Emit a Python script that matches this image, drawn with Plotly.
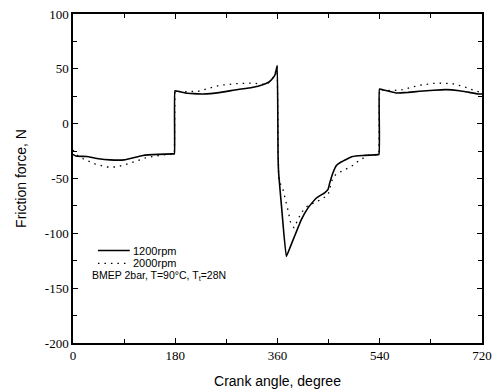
import plotly.graph_objects as go

# 1200 rpm (solid)
angle_1200 = [0, 5, 24, 45, 65, 90, 123, 150, 176, 178.5, 179.5, 185, 197, 229, 260, 288, 315,
              334, 345, 352, 356, 359.5, 361, 362, 367, 375.5, 382, 390, 402, 413.5, 428, 443, 449,
              452, 457.5, 464, 472, 492, 510, 530, 538.5, 539.5, 545, 569, 590, 610, 635, 657, 680,
              698, 715, 720]
force_1200 = [-28, -29.5, -30, -32, -33, -33, -29, -28, -27.5, -27.5, 30, 29.5, 28, 27, 28.5, 31, 33,
              35.5, 38, 41.6, 45, 53, -30, -45, -75, -121, -113, -102.7, -87.5, -77, -68, -63, -60,
              -54, -45, -38, -35, -30, -29, -28.5, -28, 31.5, 31, 28, 28.5, 29.5, 30.5, 31, 30,
              28.5, 27, 27]

# 2000 rpm (dotted)
angle_2000 = [0, 5, 18, 40, 60, 77, 100, 129, 153, 165, 176, 178.5, 179.5, 190, 220, 258, 288, 316,
              340, 350, 355, 359.5, 362, 369.6, 378, 383, 389, 396, 402, 413, 437, 449, 457,
              463, 478, 490, 505, 520, 538.5, 539.5, 560, 580, 610, 639, 668, 686, 708, 720]
force_2000 = [-24, -28, -32, -37, -39.5, -39.5, -36, -31, -29, -28, -28, -28, 30, 29, 29.5, 35, 36.5, 37,
              35.5, 40, 45, 52, -51, -60, -78, -90, -95, -87.5, -81, -75, -69, -65, -50,
              -46, -42, -39, -33, -29, -28, 31, 30, 31, 35, 37, 36.5, 34, 30, 28]

x_ticks = [0, 180, 360, 540, 720]
y_ticks = [100, 50, 0, -50, -100, -150, -200]
series_names = ["1200rpm", "2000rpm"]
note_text = "BMEP 2bar, T=90°C, T<sub>t</sub>=28N"

fig = go.Figure()
fig.add_trace(go.Scatter(x=angle_1200, y=force_1200, mode="lines", name=series_names[0],
                         line=dict(color="black", width=1.6, shape="spline", smoothing=0.3), showlegend=False))
fig.add_trace(go.Scatter(x=angle_2000, y=force_2000, mode="lines", name=series_names[1],
                         line=dict(color="black", width=1.3, dash="1.5px,5px"), showlegend=False))

axis_common = dict(showline=True, linecolor="black", linewidth=1.5, mirror="ticks",
                   ticks="inside", ticklen=5, tickwidth=1.2, tickcolor="black",
                   showgrid=False, zeroline=False, automargin=False,
                   tickfont=dict(family="Liberation Serif", size=13, color="black"),
                   minor=dict(ticks="inside", ticklen=4, tickwidth=1, tickcolor="black", showgrid=False))

fig.update_xaxes(range=[0, 720], tickvals=x_ticks, ticktext=[str(v) for v in x_ticks],
                 title=dict(text="Crank angle, degree", font=dict(family="Liberation Sans", size=14, color="black")),
                 **axis_common)
fig.update_xaxes(minor_dtick=90, minor_tick0=0)
fig.update_yaxes(range=[-200, 100], tickvals=y_ticks, ticktext=[str(v) for v in y_ticks],
                 title=dict(text="Friction force, N", font=dict(family="Liberation Sans", size=14, color="black")),
                 **axis_common)
fig.update_yaxes(minor_dtick=25, minor_tick0=0)

# legend drawn as samples + labels
fig.add_shape(type="line", xref="paper", yref="paper", x0=0.061, x1=0.139, y0=0.281, y1=0.281,
              line=dict(color="black", width=1.4))
fig.add_shape(type="line", xref="paper", yref="paper", x0=0.061, x1=0.139, y0=0.242, y1=0.242,
              line=dict(color="black", width=1.2, dash="1.5px,5px"))
fig.add_annotation(xref="paper", yref="paper", x=0.141, y=0.281, text=series_names[0], showarrow=False,
                   xanchor="left", yanchor="middle", font=dict(family="Liberation Sans", size=11, color="black"))
fig.add_annotation(xref="paper", yref="paper", x=0.141, y=0.242, text=series_names[1], showarrow=False,
                   xanchor="left", yanchor="middle", font=dict(family="Liberation Sans", size=11, color="black"))
fig.add_annotation(xref="paper", yref="paper", x=0.042, y=0.205, text=note_text, showarrow=False,
                   xanchor="left", yanchor="middle", font=dict(family="Liberation Sans", size=10.5, color="black"))

fig.update_layout(width=500, height=389, margin=dict(l=73, r=18, t=14, b=46),
                  paper_bgcolor="white", plot_bgcolor="white", showlegend=False)

fig.write_html("out.html")
